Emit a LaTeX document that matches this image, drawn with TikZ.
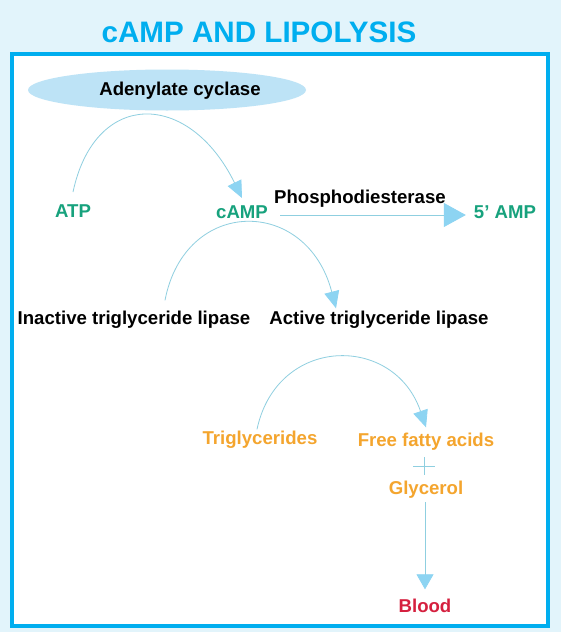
\documentclass[tikz,border=0pt]{standalone}
\usepackage{fontspec}
\setmainfont{Liberation Sans}
\usetikzlibrary{arrows.meta}
\definecolor{pagebg}{HTML}{E2F4FB}
\definecolor{framecyan}{HTML}{00AEEF}
\definecolor{cyclasefill}{HTML}{BDE3F6}
\definecolor{linkblue}{HTML}{8FCFE0}
\definecolor{tipblue}{HTML}{8DD4F2}
\definecolor{nucgreen}{HTML}{17A27D}
\definecolor{fatorange}{HTML}{F4A52E}
\definecolor{bloodred}{HTML}{D5203F}
\begin{document}
\begin{tikzpicture}[x=1pt,y=-1pt,
        every node/.append style={font=\bfseries\fontsize{18.6}{20}\selectfont,inner sep=0pt,anchor=base},
        link/.style={draw=linkblue,line width=0.8pt},
        tip/.style={-{Triangle[width=15pt,length=17pt,color=tipblue]}},
        bigtip/.style={-{Triangle[width=24pt,length=22pt,color=tipblue]}}
    ]
    % page and frame
    \fill[pagebg] (0,0) rectangle (561,632);
    \useasboundingbox (0,0) rectangle (561,632);
    \draw[framecyan,line width=3.5pt,fill=white] (12,54) rectangle (548,626);
    \node[text=framecyan,font=\bfseries\fontsize{29.6}{32}\selectfont] (title) at (259,42) {cAMP AND LIPOLYSIS};

    % adenylate cyclase step
    \fill[cyclasefill] (167,90) ellipse [x radius=139, y radius=20.5];
    \node (cyclase) at (180,95) {Adenylate cyclase};
    \node[text=nucgreen] (atp) at (73,217) {ATP};
    \node[text=nucgreen] (camp) at (242,218) {cAMP};
    \node[text=nucgreen] (amp) at (505,218) {5’ AMP};
    \draw[link,tip] ([yshift=12pt]atp.north) .. controls +(22,-103) and +(-53,-108) .. ([yshift=7pt]camp.north);
    \draw[link,bigtip] ([xshift=12pt,yshift=3pt]camp.base east) -- node[pos=0.43,yshift=12pt]{Phosphodiesterase} ([xshift=-8pt,yshift=3pt]amp.base west);

    % lipase activation
    \node (inactive) at (134,324) {Inactive triglyceride lipase};
    \node (active) at (379,324) {Active triglyceride lipase};
    \draw[link,tip] ([xshift=31pt,yshift=10pt]inactive.north) .. controls +(20,-104) and +(-29,-112) .. ([xshift=-43pt,yshift=2pt]active.north);

    % lipolysis
    \node[text=fatorange] (tg) at (260,444) {Triglycerides};
    \node[text=fatorange] (ffa) at (426,446) {Free fatty acids};
    \node[text=fatorange] (glycerol) at (426,494) {Glycerol};
    \node[text=bloodred] (blood) at (425,612) {Blood};
    \draw[link,tip] ([xshift=-3pt,yshift=1pt]tg.north) .. controls +(20,-94) and +(-32,-94) .. ([yshift=5pt]ffa.north);
    \coordinate (plus) at (424,466);
    \draw[link] ([yshift=9pt]plus) -- ([yshift=-9pt]plus);
    \draw[link] ([xshift=-11pt]plus) -- ([xshift=11pt]plus);
    \draw[link,-{Triangle[width=17pt,length=15pt,color=tipblue]}] ([xshift=-1pt,yshift=-4pt]glycerol.south) -- ([yshift=9pt]blood.north);
\end{tikzpicture}
\end{document}
